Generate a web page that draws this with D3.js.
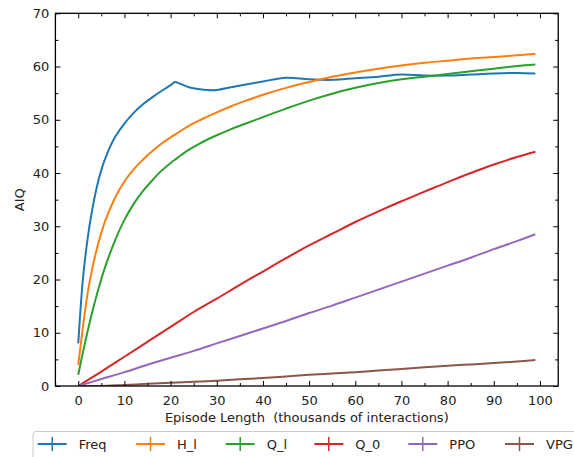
<!DOCTYPE html>
<html>
<head>
<meta charset="utf-8">
<script src="https://cdn.jsdelivr.net/npm/d3@7"></script>
<style>
  body { margin: 0; background: #fff; }
  text { font-family: "DejaVu Sans", sans-serif; }
</style>
</head>
<body>
<div id="chart"></div>
<script>
// x positions (thousands of interactions) for the curved series
const episodes = [0, 1, 2, 3, 4, 5, 6, 8, 10, 12, 14, 16, 18, 20, 21, 22, 24, 26, 28, 30,
  33, 36, 40, 45, 50, 55, 60, 65, 70, 75, 80, 85, 90, 95, 99];
const freq = [8, 20, 27.5, 33, 37.3, 40.6, 43.1, 46.8, 49.3, 51.3, 52.9, 54.2, 55.4, 56.5, 57.1, 56.8,
  56.1, 55.8, 55.6, 55.6, 56.1, 56.6, 57.2, 57.9, 57.6, 57.5, 57.8, 58.1, 58.5, 58.3, 58.3, 58.5, 58.7, 58.8, 58.7];
const hL = [3.9, 11, 17.3, 21.9, 25.7, 28.8, 31.4, 35.4, 38.4, 40.7, 42.5, 44.1, 45.5, 46.7, 47.25, 47.8,
  48.9, 49.8, 50.6, 51.4, 52.5, 53.5, 54.7, 56.0, 57.1, 58.1, 58.9, 59.6, 60.2, 60.7, 61.1, 61.5, 61.8, 62.1, 62.4];
const qL = [2.1, 6.3, 10.2, 13.8, 17.1, 20.1, 22.8, 27.4, 31.2, 34.2, 36.6, 38.6, 40.4, 41.9, 42.55, 43.2,
  44.4, 45.4, 46.3, 47.1, 48.2, 49.2, 50.5, 52.1, 53.6, 54.9, 56.0, 56.9, 57.6, 58.1, 58.6, 59.1, 59.6, 60.1, 60.4];

// x positions for the near-linear series
const episodesLin = [0, 5, 10, 15, 20, 25, 30, 35, 40, 45, 50, 55, 60, 65, 70, 75, 80, 85, 90, 95, 99];
const q0 = [0, 2.7, 5.5, 8.3, 11.1, 13.9, 16.4, 19, 21.5, 24, 26.4, 28.6, 30.8, 32.8, 34.7, 36.5, 38.3, 40, 41.6, 43, 44];
const ppo = [0, 1.3, 2.6, 4.0, 5.3, 6.6, 8.0, 9.4, 10.8, 12.2, 13.7, 15.1, 16.6, 18.1, 19.6, 21.1, 22.6, 24.1, 25.7, 27.2, 28.5];
const vpg = [0, 0, 0.2, 0.4, 0.6, 0.8, 1.0, 1.25, 1.5, 1.8, 2.1, 2.35, 2.6, 2.9, 3.2, 3.5, 3.8, 4.05, 4.3, 4.6, 4.9];

const seriesNames = ['Freq', 'H_l', 'Q_l', 'Q_0', 'PPO', 'VPG'];
const seriesColors = ['#1f77b4', '#ff7f0e', '#2ca02c', '#d62728', '#9467bd', '#8c564b'];
const xTicks = [0, 10, 20, 30, 40, 50, 60, 70, 80, 90, 100];
const yTicks = [0, 10, 20, 30, 40, 50, 60, 70];

const series = [
  { name: seriesNames[0], xs: episodes, ys: freq },
  { name: seriesNames[1], xs: episodes, ys: hL },
  { name: seriesNames[2], xs: episodes, ys: qL },
  { name: seriesNames[3], xs: episodesLin, ys: q0 },
  { name: seriesNames[4], xs: episodesLin, ys: ppo },
  { name: seriesNames[5], xs: episodesLin, ys: vpg }
].map((s, i) => ({
  name: s.name,
  color: seriesColors[i],
  points: s.xs.map((x, j) => ({ x: x, y: s.ys[j] }))
}));

const
  totalWidth = 574,
  totalHeight = 457;
const
  plot = { left: 55.4, right: 558.2, top: 13.3, bottom: 386 };
const textColor = '#222';

const svg = d3.select('#chart').append('svg')
  .attr('width', totalWidth)
  .attr('height', totalHeight);

//--------------------- Scales -------------------------------------------------
const xScale = d3.scaleLinear()
  .domain([-4.95, 103.95])
  .range([plot.left, plot.right]);

const yScale = d3.scaleLinear()
  .domain([0, 70])
  .range([plot.bottom, plot.top]);

//--------------------- Lines --------------------------------------------------
const line = d3.line()
  .x(d => xScale(d.x))
  .y(d => yScale(d.y))
  .curve(d3.curveCatmullRom.alpha(0.5));

svg.append('defs').append('clipPath')
  .attr('id', 'clip')
  .append('rect')
    .attr('x', plot.left)
    .attr('y', plot.top)
    .attr('width', plot.right - plot.left)
    .attr('height', plot.bottom - plot.top);

svg.append('g')
  .attr('clip-path', 'url(#clip)')
  .selectAll('path')
  .data(series)
  .enter()
  .append('path')
    .attr('d', d => line(d.points))
    .attr('fill', 'none')
    .attr('stroke', d => d.color)
    .attr('stroke-width', 2)
    .attr('stroke-linejoin', 'round');

//--------------------- Axes (ticks inward on all sides) ------------------------
const xMinor = d3.range(-5, 105, 5).filter(v => v % 10 !== 0);
const yMinor = d3.range(5, 70, 10);

function styleAxis(g){
  g.select('.domain').remove();
  g.selectAll('line').attr('stroke', '#000').attr('stroke-width', 1);
  g.selectAll('text')
    .attr('fill', textColor)
    .style('font-size', '13px')
    .style('font-family', '"DejaVu Sans", sans-serif');
}

svg.append('g')
  .attr('transform', 'translate(0,' + plot.bottom + ')')
  .call(d3.axisBottom(xScale).tickValues(xTicks).tickSize(-5).tickPadding(10))
  .call(styleAxis);
svg.append('g')
  .attr('transform', 'translate(0,' + plot.bottom + ')')
  .call(d3.axisBottom(xScale).tickValues(xMinor).tickSize(-3).tickFormat(''))
  .call(styleAxis);

svg.append('g')
  .attr('transform', 'translate(0,' + plot.top + ')')
  .call(d3.axisTop(xScale).tickValues(xTicks).tickSize(-5).tickFormat(''))
  .call(styleAxis);
svg.append('g')
  .attr('transform', 'translate(0,' + plot.top + ')')
  .call(d3.axisTop(xScale).tickValues(xMinor).tickSize(-3).tickFormat(''))
  .call(styleAxis);

svg.append('g')
  .attr('transform', 'translate(' + plot.left + ',0)')
  .call(d3.axisLeft(yScale).tickValues(yTicks).tickSize(-5).tickPadding(6))
  .call(styleAxis);
svg.append('g')
  .attr('transform', 'translate(' + plot.left + ',0)')
  .call(d3.axisLeft(yScale).tickValues(yMinor).tickSize(-3).tickFormat(''))
  .call(styleAxis);

svg.append('g')
  .attr('transform', 'translate(' + plot.right + ',0)')
  .call(d3.axisRight(yScale).tickValues(yTicks).tickSize(-5).tickFormat(''))
  .call(styleAxis);
svg.append('g')
  .attr('transform', 'translate(' + plot.right + ',0)')
  .call(d3.axisRight(yScale).tickValues(yMinor).tickSize(-3).tickFormat(''))
  .call(styleAxis);

// frame
svg.append('rect')
  .attr('x', plot.left)
  .attr('y', plot.top)
  .attr('width', plot.right - plot.left)
  .attr('height', plot.bottom - plot.top)
  .attr('fill', 'none')
  .attr('stroke', '#000')
  .attr('stroke-width', 1.3);

//--------------------- Axis labels --------------------------------------------
svg.append('text')
  .attr('x', (plot.left + plot.right) / 2)
  .attr('y', 422)
  .attr('text-anchor', 'middle')
  .attr('fill', textColor)
  .style('font-size', '13px')
  .style('white-space', 'pre')
  .text('Episode Length  (thousands of interactions)');

svg.append('text')
  .attr('transform', 'translate(24,' + ((plot.top + plot.bottom) / 2) + ') rotate(-90)')
  .attr('text-anchor', 'middle')
  .attr('fill', textColor)
  .style('font-size', '13px')
  .text('AIQ');

//--------------------- Legend -------------------------------------------------
const legendStarts = [37.7, 136, 225.7, 314.3, 408.3, 505];
const legendY = 444;

svg.append('rect')
  .attr('x', 33)
  .attr('y', 431.5)
  .attr('width', 560)
  .attr('height', 40)
  .attr('rx', 3)
  .attr('fill', '#fff')
  .attr('stroke', '#ccc')
  .attr('stroke-width', 1);

const legendItems = svg.append('g')
  .selectAll('g')
  .data(series)
  .enter()
  .append('g')
    .attr('transform', (d, i) => 'translate(' + legendStarts[i] + ',' + legendY + ')');

legendItems.append('line')
  .attr('x1', 0).attr('x2', 29)
  .attr('y1', 0).attr('y2', 0)
  .attr('stroke', d => d.color)
  .attr('stroke-width', 2);
legendItems.append('line')
  .attr('x1', 14.5).attr('x2', 14.5)
  .attr('y1', -7).attr('y2', 7)
  .attr('stroke', d => d.color)
  .attr('stroke-width', 1.5);
legendItems.append('text')
  .attr('x', 41)
  .attr('y', 5)
  .attr('fill', textColor)
  .style('font-size', '13px')
  .text(d => d.name);
</script>
</body>
</html>
